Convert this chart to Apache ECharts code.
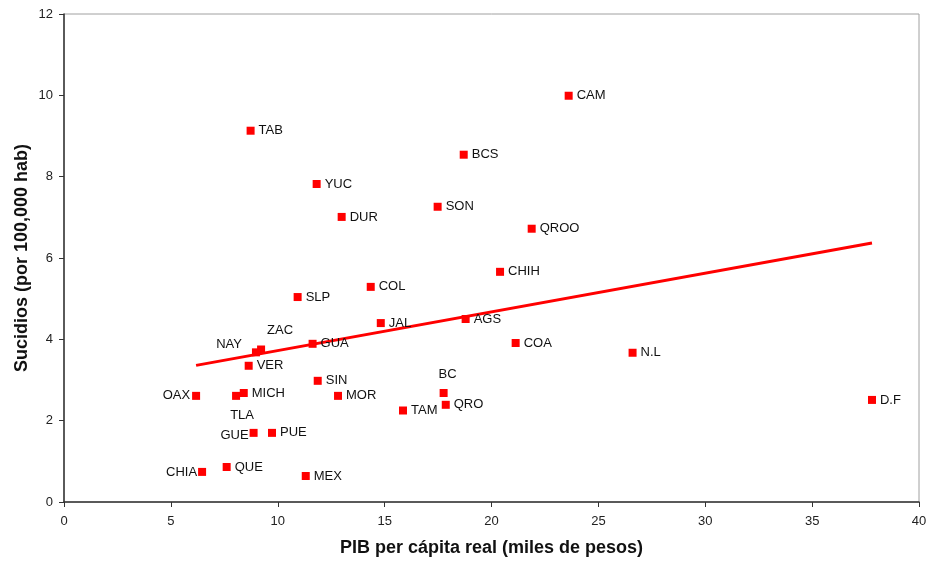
<!DOCTYPE html>
<html>
<head>
<meta charset="utf-8">
<script src="https://cdn.jsdelivr.net/npm/echarts@6/dist/echarts.min.js"></script>
<style>html,body{margin:0;padding:0;background:#fff}#c{width:930px;height:563px}</style>
</head>
<body>
<div id="c"></div>
<script>
const states = ["TAB","CAM","BCS","YUC","DUR","SON","QROO","CHIH","COL","SLP","JAL","AGS","GUA","COA","N.L","D.F","SIN","MOR","BC","QRO","TAM","MEX","NAY","ZAC","VER","OAX","TLA","MICH","GUE","PUE","QUE","CHIA"];
const pib = [8.73,23.61,18.70,11.82,12.99,17.48,21.88,20.40,14.35,10.93,14.82,18.79,11.63,21.13,26.60,37.80,11.87,12.82,17.76,17.86,15.86,11.31,8.98,9.22,8.64,6.18,8.05,8.41,8.87,9.73,7.61,6.46];
const suicidios = [9.13,9.99,8.54,7.82,7.01,7.26,6.72,5.66,5.29,5.04,4.40,4.50,3.89,3.91,3.67,2.51,2.98,2.61,2.68,2.39,2.25,0.64,3.68,3.75,3.35,2.61,2.61,2.68,1.70,1.70,0.86,0.74];
const trendX = [6.18, 37.8];
const trendY = [3.36, 6.37];
const xTicks = [0,5,10,15,20,25,30,35,40];
const yTicks = [0,2,4,6,8,10,12];

// label placement overrides (style only)
const labelPlacement = {
  "NAY": {position: "left", distance: 10, offset: [0, -8]},
  "ZAC": {position: "top", distance: 9, offset: [19, 0]},
  "TLA": {position: "bottom", distance: 9, offset: [6, 0]},
  "GUE": {position: "left", distance: 1, offset: [0, 3]},
  "CHIA": {position: "left", distance: 1, offset: [0, 1]},
  "OAX": {position: "left", distance: 2, offset: [0, 0]},
  "BC": {position: "top", distance: 8, offset: [4, 0]}
};

const pts = states.map((s, i) => {
  const d = {name: s, value: [pib[i], suicidios[i]]};
  if (labelPlacement[s]) d.label = Object.assign({}, labelPlacement[s]);
  return d;
});

const font = "'Liberation Sans', Arial, sans-serif";
const chart = echarts.init(document.getElementById('c'), null, {renderer: 'canvas'});
chart.setOption({
  animation: false,
  backgroundColor: '#fff',
  grid: {left: 64, right: 11, top: 14, bottom: 61, containLabel: false, outerBoundsMode: 'none',
         show: true, borderColor: '#a0a0a0', borderWidth: 1, backgroundColor: 'transparent'},
  xAxis: {
    type: 'value', min: xTicks[0], max: xTicks[xTicks.length-1], interval: 5,
    name: 'PIB per cápita real (miles de pesos)', nameLocation: 'middle', nameGap: 37, nameMoveOverlap: false,
    nameTextStyle: {fontFamily: font, fontWeight: 'bold', fontSize: 18, color: '#111'},
    axisLine: {show: true, lineStyle: {color: '#333', width: 1.5}},
    axisTick: {show: true, length: 5, lineStyle: {color: '#333'}},
    axisLabel: {fontFamily: font, fontSize: 13, color: '#222', margin: 13},
    splitLine: {show: false}
  },
  yAxis: {
    type: 'value', min: yTicks[0], max: yTicks[yTicks.length-1], interval: 2,
    name: 'Sucidios (por 100,000 hab)', nameLocation: 'middle', nameGap: 33, nameRotate: 90, nameMoveOverlap: false,
    nameTextStyle: {fontFamily: font, fontWeight: 'bold', fontSize: 18, color: '#111'},
    axisLine: {show: true, lineStyle: {color: '#333', width: 1.5}},
    axisTick: {show: true, length: 5, lineStyle: {color: '#333'}},
    axisLabel: {fontFamily: font, fontSize: 13, color: '#222', margin: 11},
    splitLine: {show: false}
  },
  series: [
    {
      type: 'line',
      data: trendX.map((x, i) => [x, trendY[i]]),
      showSymbol: false, symbol: 'none',
      lineStyle: {color: '#ff0000', width: 3},
      z: 1, silent: true
    },
    {
      type: 'scatter',
      data: pts,
      symbol: 'rect', symbolSize: 8,
      itemStyle: {color: '#ff0000', opacity: 1},
      label: {show: true, position: 'right', distance: 4, formatter: '{b}', fontFamily: font, fontSize: 13, color: '#111'},
      z: 2
    }
  ]
});
</script>
</body>
</html>
